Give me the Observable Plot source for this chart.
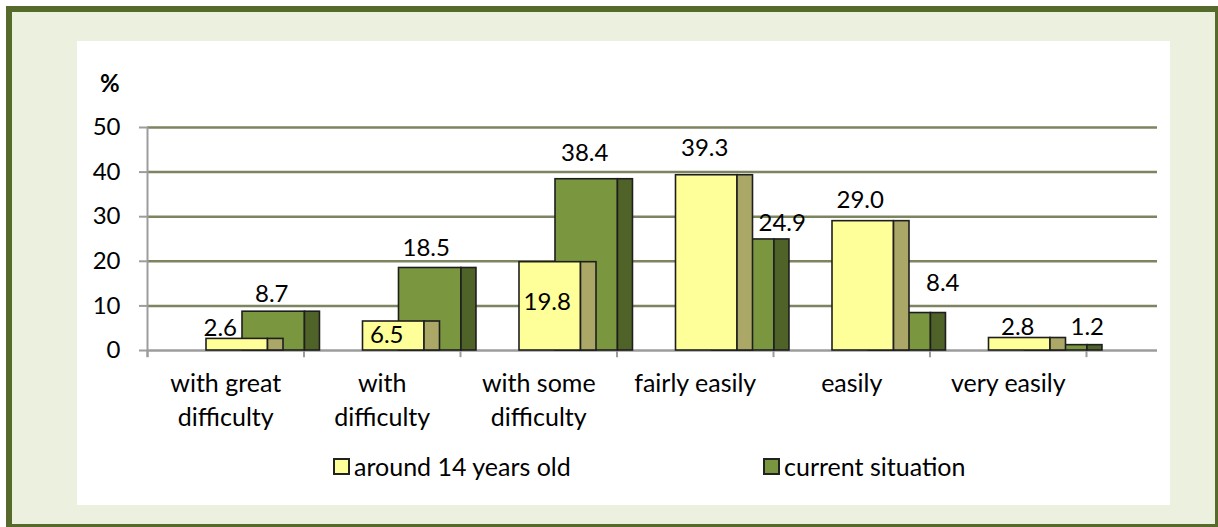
<!DOCTYPE html>
<html>
<head>
<meta charset="utf-8">
<script src="https://cdn.jsdelivr.net/npm/d3@7"></script>
<script src="https://cdn.jsdelivr.net/npm/@observablehq/plot@0.6"></script>
<style>
  html, body { margin: 0; padding: 0; background: #ffffff; width: 1218px; height: 527px; overflow: hidden; font-family: Lato, "Open Sans", sans-serif; }
  #frame { position: absolute; left: 6px; top: 6px; width: 1203px; height: 512px; border: 6px solid #566A2C; background: #EBF1DE; }
  #panel { position: absolute; left: 77px; top: 41px; width: 1093px; height: 464px; background: #ffffff; }
  #chart { position: absolute; left: 0; top: 0; }
  #unit { position: absolute; left: 100px; top: 68px; font-size: 24px; font-weight: bold; color: #000; }
  .leg { position: absolute; top: 451px; font-size: 25px; color: #000; display: flex; align-items: center; }
  .sw { width: 13px; height: 13px; border: 2px solid #222; margin-right: 4px; }
</style>
</head>
<body>
<div id="frame"></div>
<div id="panel"></div>
<div id="chart"></div>
<div id="unit">%</div>
<div id="legend"></div>
<script>
// ---- data ----
const categories = ["with great\ndifficulty", "with\ndifficulty", "with some\ndifficulty", "fairly easily", "easily", "very easily"];
const seriesNames = ["around 14 years old", "current situation"];
const around14 = [2.6, 6.5, 19.8, 39.3, 29.0, 2.8];
const current = [8.7, 18.5, 38.4, 24.9, 8.4, 1.2];
const yTicks = [0, 10, 20, 30, 40, 50];

// label nudges in px (manual placements as in the original)
const nudgeAround = [[-17, -11], [-7, 14], [-3, 40], [-2, -27], [-3, -21], [-2, -11]];
const nudgeCurrent = [[-2, -17], [-4, -19.5], [-2, -26], [39, -16], [43, -29.5], [31, -18]];

// ---- styles ----
const colors = {
  aroundFront: "#FFFF99", aroundSide: "#ABA867",
  currentFront: "#7A973F", currentSide: "#4F6228"
};
const geom = { a: [0.377, 0.770, 0.869], c: [0.607, 1.006, 1.102] };
const bandPx = 156.5;
const xMax = 1010 / bandPx;
const yPxPerUnit = 223 / 50;

const bars = [];
categories.forEach((cat, i) => {
  bars.push({x1: i + geom.c[0], x2: i + geom.c[1], v: current[i], fill: colors.currentFront});
  bars.push({x1: i + geom.c[1], x2: i + geom.c[2], v: current[i], fill: colors.currentSide});
});
categories.forEach((cat, i) => {
  bars.push({x1: i + geom.a[0], x2: i + geom.a[1], v: around14[i], fill: colors.aroundFront});
  bars.push({x1: i + geom.a[1], x2: i + geom.a[2], v: around14[i], fill: colors.aroundSide});
});

const labels = [];
categories.forEach((cat, i) => {
  labels.push({x: i + (geom.a[0] + geom.a[1]) / 2 + nudgeAround[i][0] / bandPx, y: around14[i] - nudgeAround[i][1] / yPxPerUnit, v: around14[i]});
  labels.push({x: i + (geom.c[0] + geom.c[1]) / 2 + nudgeCurrent[i][0] / bandPx, y: current[i] - nudgeCurrent[i][1] / yPxPerUnit, v: current[i]});
});

const font = "Lato, 'Open Sans', sans-serif";
const fs = 24;

const plot = Plot.plot({
  width: 1218,
  height: 527,
  marginLeft: 147,
  marginRight: 61,
  marginTop: 127,
  marginBottom: 177,
  style: { background: "transparent", fontFamily: font, fontSize: fs + "px", color: "#000", overflow: "visible" },
  x: { type: "linear", domain: [0, xMax], axis: null },
  y: { domain: [0, 50], axis: null },
  marks: [
    Plot.ruleY(yTicks.filter(d => d > 0), { x1: 0, x2: xMax, stroke: "#7C8460", strokeWidth: 2.5 }),
    Plot.ruleX([0], { y1: -1.6, y2: 50, stroke: "#9C9C9C", strokeWidth: 2 }),
    Plot.axisY({ ticks: yTicks, label: null, tickSize: 8, tickPadding: 19, stroke: "#9C9C9C", strokeWidth: 2, fill: "#000", fontSize: fs, tickFormat: d => d }),
    Plot.ruleY([0], { x1: 0, x2: xMax, stroke: "#9C9C9C", strokeWidth: 2.5 }),
    Plot.ruleX(d3.range(categories.length + 1), { y1: 0, y2: -1.6, stroke: "#9C9C9C", strokeWidth: 2 }),
    Plot.rect(bars, { x1: "x1", x2: "x2", y1: 0, y2: "v", fill: d => d.fill, stroke: "#1E1E1E", strokeWidth: 1.6 }),
    Plot.text(labels, { x: "x", y: "y", text: d => d.v.toFixed(1), fill: "#000", fontSize: fs, lineAnchor: "middle" }),
    Plot.text(categories, { x: (d, i) => i + 0.5, y: 0, text: d => d, dy: 18, lineAnchor: "top", lineHeight: 1.34, fill: "#000", fontSize: 25 })
  ]
});
document.getElementById("chart").appendChild(plot);

// legend
const legend = document.getElementById("legend");
const legendPos = [333, 763];
const legendColors = [colors.aroundFront, colors.currentFront];
seriesNames.forEach((name, k) => {
  const div = document.createElement("div");
  div.className = "leg";
  div.style.left = legendPos[k] + "px";
  div.innerHTML = `<span class="sw" style="background:${legendColors[k]}"></span><span>${name}</span>`;
  legend.appendChild(div);
});
</script>
</body>
</html>
